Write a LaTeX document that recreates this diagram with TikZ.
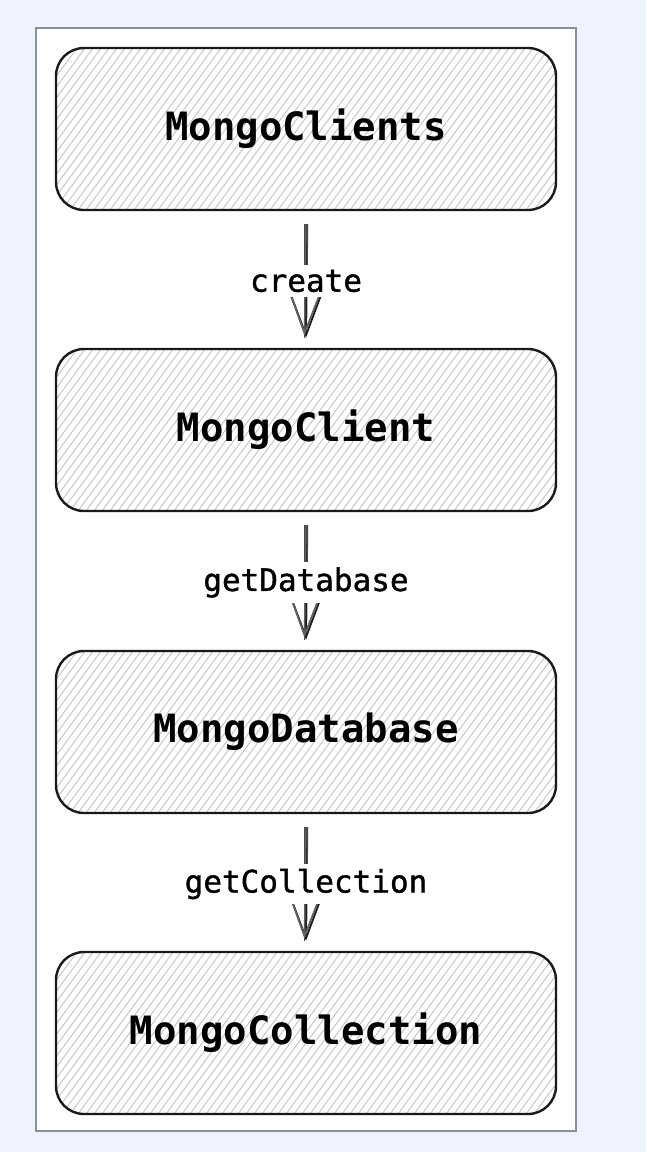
\documentclass[tikz,border=0pt]{standalone}
\usepackage{fontspec}
\setmonofont{DejaVu Sans Mono}
\newfontfamily\lblfont{DejaVu Sans Mono}[FakeBold=1.2]
\usetikzlibrary{arrows.meta,calc}
\definecolor{pagebg}{HTML}{EFF3FD}
\definecolor{frameline}{HTML}{8A9099}
\definecolor{hatchgray}{HTML}{BFC3CA}
\definecolor{inkline}{HTML}{1A1A1A}
\tikzset{
  hatchline/.style={draw=hatchgray, line width=0.9},
  mbox/.style={draw=inkline, line width=2.4, rounded corners=28,
    minimum width=500, minimum height=162, inner sep=0,
    font=\ttfamily\bfseries\fontsize{39}{42}\selectfont,
    path picture={
      \foreach \k in {0,...,80}{
        \draw[hatchline] ([xshift=\k*8-130]path picture bounding box.south west) -- ++(125,-170);
      }
    }},
  lbl/.style={fill=white, inner xsep=2, inner ysep=5, font=\lblfont\fontsize{31}{34}\selectfont},
  shaft/.style={draw=inkline!80, line width=1.5},
  tip/.style={-{Straight Barb[length=40,width=30,line width=1.8]}, draw=inkline, line width=1.5},
}
\begin{document}
\begin{tikzpicture}[x=1pt,y=-1pt]
  \fill[pagebg] (0,0) rectangle (646,1152);
  \useasboundingbox (0,0) rectangle (646,1152);
  \draw[frameline, fill=white, line width=1.2] (36,28) rectangle (576,1131);

  \node[mbox] (b1) at (306,129) {MongoClients};
  \node[mbox] (b2) at (306,430) {MongoClient};
  \node[mbox] (b3) at (306,732) {MongoDatabase};
  \node[mbox] (b4) at (306,1033) {MongoCollection};

  % connectors
  \foreach \a/\b/\t in {b1/b2/create, b2/b3/getDatabase, b3/b4/getCollection}{
    \coordinate (s) at ($(\a.south)+(0,13)$);
    \coordinate (e) at ($(\b.north)+(0,-10)$);
    \draw[shaft] ($(s)+(-1.5,0)$) -- ($(e)+(-1.5,0)$);
    \draw[shaft] ($(s)+(1.5,0)$) -- ($(e)+(0.5,-20)$);
    \draw[tip] (s) -- (e);
    \draw[tip, draw=inkline!70] (s) -- ($(e)+(-1.5,-2)$);
    \node[lbl] at ($(s)!0.5!(e)$) {\t};
  }
\end{tikzpicture}
\end{document}
